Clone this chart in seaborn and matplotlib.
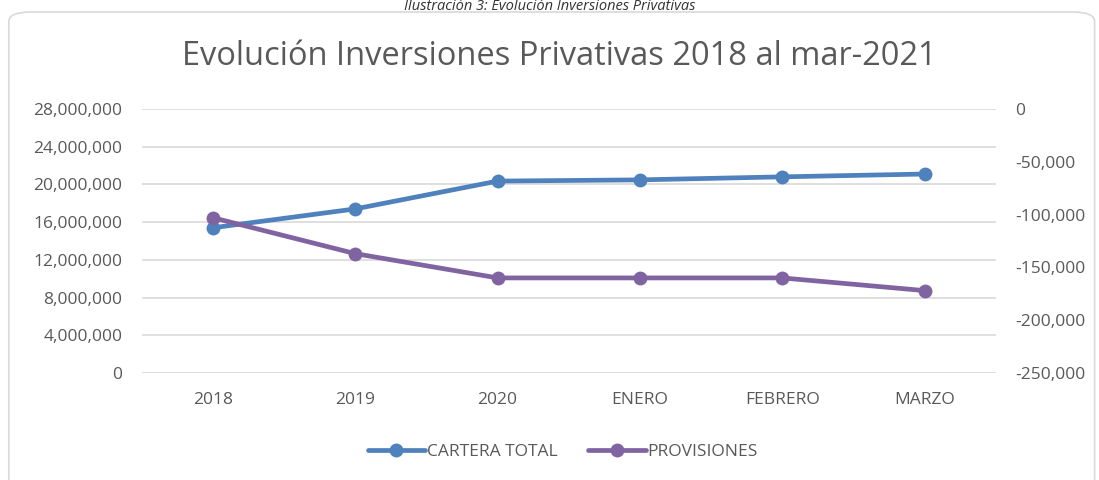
import matplotlib
matplotlib.use("Agg")
import matplotlib.pyplot as plt
import matplotlib.ticker as mticker
from matplotlib.patches import FancyBboxPatch
from matplotlib.lines import Line2D
import seaborn as sns
import pandas as pd

# data
periodos = ['2018', '2019', '2020', 'ENERO', 'FEBRERO', 'MARZO']
cartera_total = [15400000, 17400000, 20350000, 20480000, 20800000, 21100000]
provisiones = [-103000, -137000, -160000, -160000, -160000, -172000]

df = pd.DataFrame({'Periodo': periodos,
                   'CARTERA TOTAL': cartera_total,
                   'PROVISIONES': provisiones})

azul = '#4f81bd'
morado = '#8064a2'
gris = '#595959'

sns.set_theme(style="white")
plt.rcParams['font.family'] = ['Open Sans', 'DejaVu Sans']

fig = plt.figure(figsize=(10.99, 4.8), dpi=100)
ax = fig.add_axes([0.129, 0.223, 0.777, 0.550])
ax2 = ax.twinx()

# outer frame of the chart
borde = FancyBboxPatch((0.008, -0.05), 0.988, 1.025, boxstyle="round,pad=0,rounding_size=0.02",
                       transform=fig.transFigure, facecolor='white', edgecolor='#d9d9d9',
                       linewidth=1.2, zorder=-10)
fig.patches.append(borde)

sns.lineplot(data=df, x='Periodo', y='CARTERA TOTAL', ax=ax, color=azul, linewidth=3.4,
             marker='o', markersize=10, markeredgewidth=0, sort=False)
sns.lineplot(data=df, x='Periodo', y='PROVISIONES', ax=ax2, color=morado, linewidth=3.4,
             marker='o', markersize=10, markeredgewidth=0, sort=False)

ax.set_xlim(-0.5, 5.5)
ax.set_ylim(0, 28000000)
ax.set_yticks(range(0, 28000001, 4000000))
ax.yaxis.set_major_formatter(mticker.FuncFormatter(lambda v, p: f'{v:,.0f}'))
ax2.set_ylim(-250000, 0)
ax2.set_yticks(range(-250000, 1, 50000))
ax2.yaxis.set_major_formatter(mticker.FuncFormatter(lambda v, p: f'{v:,.0f}'))

ax.grid(axis='y', color='#d9d9d9', linewidth=1.2)
ax.grid(axis='x', visible=False)
ax2.grid(False)
for a in (ax, ax2):
    for s in a.spines.values():
        s.set_visible(False)
    a.set_xlabel('')
    a.set_ylabel('')
    a.tick_params(length=0, labelsize=12.5, labelcolor=gris)
ax.tick_params(axis='y', pad=14)
ax2.tick_params(axis='y', pad=14)
ax.tick_params(axis='x', pad=14)

fig.text(0.509, 0.883, 'Evolución Inversiones Privativas 2018 al mar-2021', ha='center', va='center',
         fontsize=23.5, color=gris)
fig.text(0.5, 0.98, 'Ilustración 3: Evolución Inversiones Privativas', ha='center', va='baseline',
         fontsize=10.5, style='italic', color='#333333')

handles = [Line2D([], [], color=azul, linewidth=3.4, marker='o', markersize=10, markeredgewidth=0),
           Line2D([], [], color=morado, linewidth=3.4, marker='o', markersize=10, markeredgewidth=0)]
fig.legend(handles, ['CARTERA TOTAL', 'PROVISIONES'], loc='center', bbox_to_anchor=(0.512, 0.058),
           ncol=2, frameon=False, fontsize=12.5, labelcolor=gris, handlelength=3.3,
           handletextpad=0.1, columnspacing=1.8)

fig.savefig('out.png', dpi=100)
